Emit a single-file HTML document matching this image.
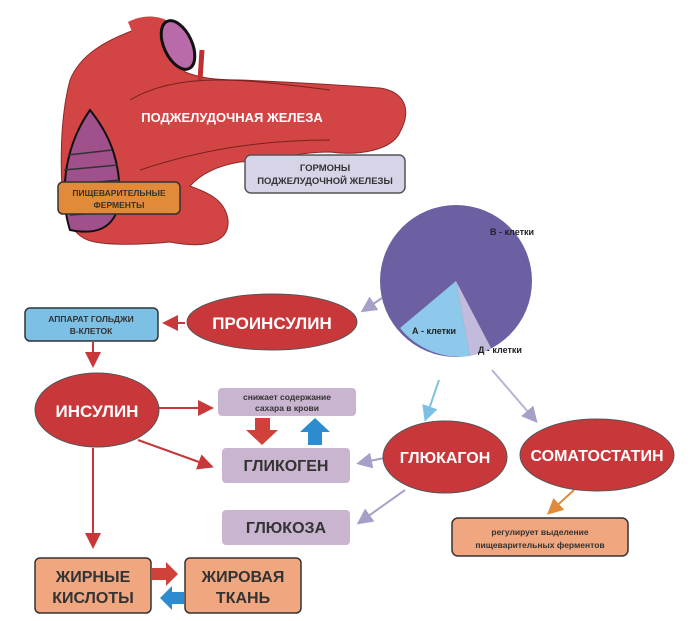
<!DOCTYPE html>
<html><head><meta charset="utf-8"><style>
body{margin:0;background:#fff;width:700px;height:621px;overflow:hidden}
svg{display:block}
text{font-family:"Liberation Sans",sans-serif;font-weight:bold}
</style></head><body>
<svg width="700" height="621" viewBox="0 0 700 621">
<defs>
<marker id="r" markerWidth="8" markerHeight="8" refX="6" refY="4" orient="auto"><path d="M0,0 L8,4 L0,8 Z" fill="#c8373a"/></marker>
<marker id="l" markerWidth="8" markerHeight="8" refX="6" refY="4" orient="auto"><path d="M0,0 L8,4 L0,8 Z" fill="#a6a0c8"/></marker>
<marker id="b" markerWidth="8" markerHeight="8" refX="6" refY="4" orient="auto"><path d="M0,0 L8,4 L0,8 Z" fill="#7ec0e4"/></marker>
<marker id="o" markerWidth="8" markerHeight="8" refX="6" refY="4" orient="auto"><path d="M0,0 L8,4 L0,8 Z" fill="#e08a3a"/></marker>
</defs>
<!-- pancreas -->
<path d="M140,28 C160,20 180,50 185,72 C200,78 215,80 240,80 C290,82 340,85 380,88 C405,92 412,110 400,132 C392,150 360,156 330,152 C300,152 270,160 240,162 C215,166 200,175 190,186 C205,192 225,198 228,220 C230,245 200,248 170,242 C140,245 110,245 95,242 C72,238 62,215 62,190 C60,150 62,110 70,80 C80,55 105,40 140,28 Z" fill="#d34545" stroke="#8a2a2a" stroke-width="1"/>
<path d="M128,22 C150,10 185,15 195,62 C185,75 165,78 150,75 Z" fill="#d34545"/>
<ellipse cx="178" cy="45" rx="14" ry="26" transform="rotate(-25 178 45)" fill="#b96aa8" stroke="#111" stroke-width="3"/>
<path d="M90,110 C110,135 120,160 120,200 C115,230 95,235 70,230 C60,200 62,150 90,110 Z" fill="#a0508a" stroke="#111" stroke-width="2"/>
<g stroke="#333" stroke-width="1.5"><line x1="68" y1="155" x2="112" y2="150"/><line x1="64" y1="170" x2="118" y2="165"/><line x1="64" y1="185" x2="120" y2="180"/><line x1="66" y1="200" x2="120" y2="196"/><line x1="70" y1="215" x2="118" y2="212"/></g>
<path d="M130,100 C180,70 250,80 330,90 M140,170 C200,150 260,140 330,140" stroke="#7a2020" fill="none" stroke-width="1"/>
<line x1="202" y1="50" x2="200" y2="80" stroke="#c03030" stroke-width="5"/>
<text x="232" y="122" font-size="13" fill="#fff" text-anchor="middle">ПОДЖЕЛУДОЧНАЯ ЖЕЛЕЗА</text>
<rect x="245" y="155" width="160" height="38" rx="6" fill="#d8d4e8" stroke="#555" stroke-width="1.5"/>
<text x="325" y="171" font-size="9.5" fill="#333" text-anchor="middle">ГОРМОНЫ</text>
<text x="325" y="184" font-size="9.5" fill="#333" text-anchor="middle">ПОДЖЕЛУДОЧНОЙ ЖЕЛЕЗЫ</text>
<rect x="58" y="182" width="122" height="32" rx="5" fill="#e08a3a" stroke="#333" stroke-width="1.5"/>
<text x="119" y="196" font-size="8.5" fill="#333" text-anchor="middle">ПИЩЕВАРИТЕЛЬНЫЕ</text>
<text x="119" y="208" font-size="8.5" fill="#333" text-anchor="middle">ФЕРМЕНТЫ</text>
<!-- pie -->
<circle cx="456" cy="281" r="76" fill="#6c5fa2"/>
<path d="M456,281 L400,328 A76,76 0 0 0 470,356 Z" fill="#8ec8ea"/>
<path d="M456,281 L470,356 A76,76 0 0 0 491,348 Z" fill="#c2bbdc"/>
<text x="490" y="235" font-size="9" fill="#222">В - клетки</text>
<text x="412" y="334" font-size="9" fill="#222">А - клетки</text>
<text x="478" y="353" font-size="9" fill="#222">Д - клетки</text>
<!-- arrows -->
<g fill="none" stroke-width="2">
<line x1="382" y1="298" x2="364" y2="310" stroke="#a6a0c8" marker-end="url(#l)"/>
<line x1="185" y1="323" x2="166" y2="323" stroke="#c8373a" marker-end="url(#r)"/>
<line x1="93" y1="342" x2="93" y2="364" stroke="#c8373a" marker-end="url(#r)"/>
<line x1="150" y1="408" x2="210" y2="408" stroke="#c8373a" marker-end="url(#r)"/>
<line x1="138" y1="440" x2="210" y2="466" stroke="#c8373a" marker-end="url(#r)"/>
<line x1="93" y1="448" x2="93" y2="545" stroke="#c8373a" marker-end="url(#r)"/>
<line x1="439" y1="380" x2="426" y2="418" stroke="#7ec0e4" marker-end="url(#b)"/>
<line x1="492" y1="370" x2="535" y2="420" stroke="#b8b2d4" marker-end="url(#l)"/>
<line x1="384" y1="458" x2="360" y2="463" stroke="#a6a0c8" marker-end="url(#l)"/>
<line x1="405" y1="490" x2="360" y2="522" stroke="#a6a0c8" marker-end="url(#l)"/>
<line x1="574" y1="490" x2="550" y2="512" stroke="#e08a3a" marker-end="url(#o)"/>
</g>
<!-- nodes -->
<rect x="25" y="308" width="133" height="33" rx="5" fill="#7cc0e6" stroke="#333" stroke-width="1.5"/>
<text x="91" y="322" font-size="8.5" fill="#333" text-anchor="middle">АППАРАТ ГОЛЬДЖИ</text>
<text x="91" y="334" font-size="8.5" fill="#333" text-anchor="middle">В-КЛЕТОК</text>
<ellipse cx="272" cy="322" rx="85" ry="28" fill="#c8373a" stroke="#555"/>
<text x="272" y="329" font-size="17" fill="#fff" text-anchor="middle">ПРОИНСУЛИН</text>
<ellipse cx="97" cy="410" rx="62" ry="37" fill="#c8373a" stroke="#555"/>
<text x="97" y="417" font-size="17" fill="#fff" text-anchor="middle">ИНСУЛИН</text>
<rect x="218" y="388" width="138" height="28" rx="4" fill="#c9b5cf"/>
<text x="287" y="400" font-size="8.5" fill="#333" text-anchor="middle">снижает содержание</text>
<text x="287" y="411" font-size="8.5" fill="#333" text-anchor="middle">сахара в крови</text>
<path d="M255,418 H270 V430 H278 L262,445 L246,430 H255 Z" fill="#d0413a"/>
<path d="M308,445 H322 V432 H330 L315,418 L300,432 H308 Z" fill="#2c8ccf"/>
<rect x="222" y="448" width="128" height="35" rx="4" fill="#c9b5cf"/>
<text x="286" y="471" font-size="16" fill="#333" text-anchor="middle">ГЛИКОГЕН</text>
<rect x="222" y="510" width="128" height="35" rx="4" fill="#c9b5cf"/>
<text x="286" y="533" font-size="16" fill="#333" text-anchor="middle">ГЛЮКОЗА</text>
<ellipse cx="445" cy="457" rx="62" ry="36" fill="#c8373a" stroke="#555"/>
<text x="445" y="463" font-size="16" fill="#fff" text-anchor="middle">ГЛЮКАГОН</text>
<ellipse cx="597" cy="455" rx="77" ry="36" fill="#c8373a" stroke="#555"/>
<text x="597" y="461" font-size="16" fill="#fff" text-anchor="middle">СОМАТОСТАТИН</text>
<rect x="452" y="518" width="176" height="38" rx="6" fill="#f0a67e" stroke="#333" stroke-width="1.5"/>
<text x="540" y="535" font-size="8.5" fill="#333" text-anchor="middle">регулирует выделение</text>
<text x="540" y="548" font-size="8.5" fill="#333" text-anchor="middle">пищеварительных ферментов</text>
<rect x="35" y="558" width="116" height="55" rx="5" fill="#f0a67e" stroke="#333" stroke-width="1.5"/>
<text x="93" y="582" font-size="16" fill="#333" text-anchor="middle">ЖИРНЫЕ</text>
<text x="93" y="603" font-size="16" fill="#333" text-anchor="middle">КИСЛОТЫ</text>
<rect x="185" y="558" width="116" height="55" rx="5" fill="#f0a67e" stroke="#333" stroke-width="1.5"/>
<text x="243" y="582" font-size="16" fill="#333" text-anchor="middle">ЖИРОВАЯ</text>
<text x="243" y="603" font-size="16" fill="#333" text-anchor="middle">ТКАНЬ</text>
<path d="M152,568 H166 V562 L178,574 L166,586 V580 H152 Z" fill="#d0413a"/>
<path d="M184,592 H172 V586 L160,598 L172,610 V604 H184 Z" fill="#2c8ccf"/>
</svg>
</body></html>
